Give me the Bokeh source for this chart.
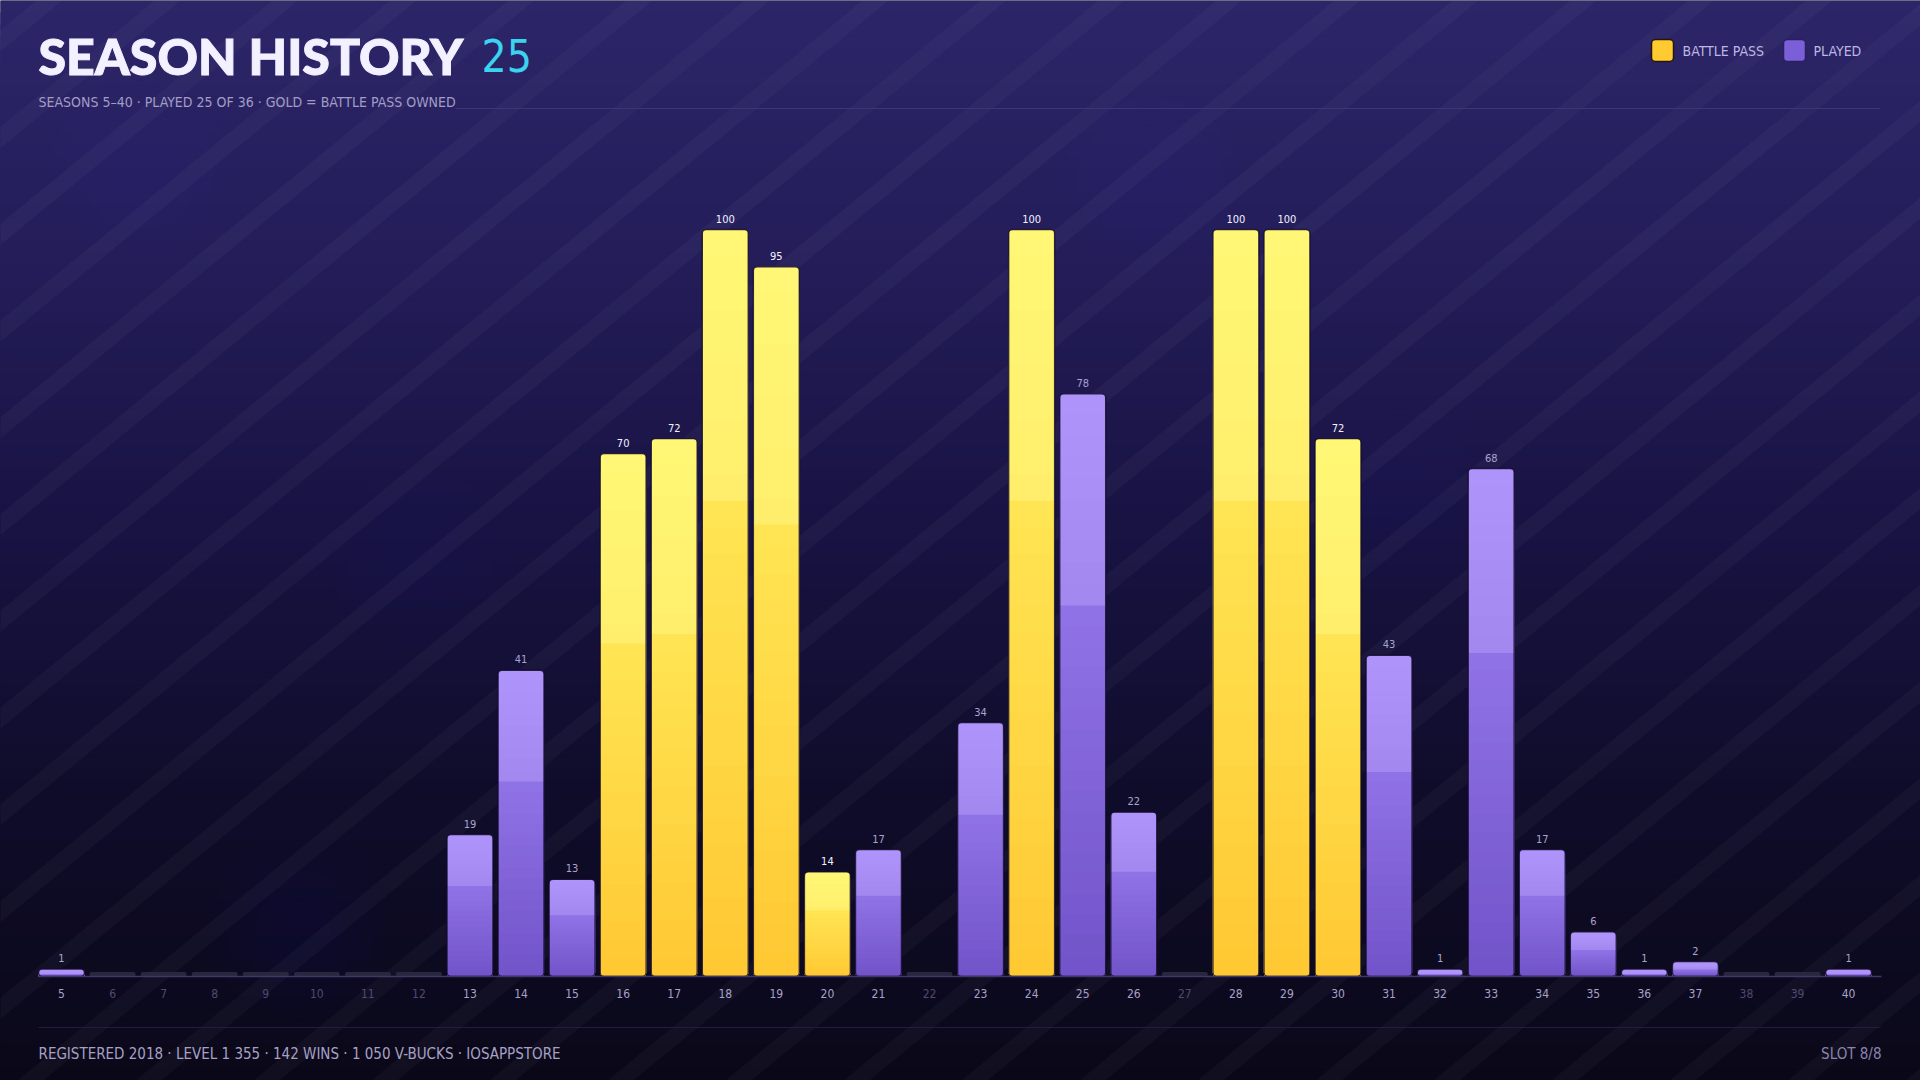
import numpy as np
from bokeh.plotting import figure
from bokeh.models import Range1d, FixedTicker, Label, LinearAxis, ColumnDataSource
from bokeh.core.properties import value
from bokeh.embed import file_html
from bokeh.resources import INLINE

# ---------------- data ----------------
seasons = list(range(5, 41))
levels = [1, 0, 0, 0, 0, 0, 0, 0, 19, 41, 13, 70, 72, 100, 95, 14, 17, 0, 34, 100,
          78, 22, 0, 100, 100, 72, 43, 1, 68, 17, 6, 1, 2, 0, 0, 1]
battle_pass_seasons = [16, 17, 18, 19, 20, 24, 28, 29, 30]

title_text = "SEASON HISTORY"
title_count = "25"
subtitle_text = "SEASONS 5\u201340  \u00b7  PLAYED 25 OF 36  \u00b7  GOLD = BATTLE PASS OWNED"
legend_labels = ["BATTLE PASS", "PLAYED"]
footer_text = "REGISTERED 2018  \u00b7  LEVEL 1 355  \u00b7  142 WINS  \u00b7  1 050 V-BUCKS  \u00b7  IOSAPPSTORE"
footer_right = "SLOT 8/8"

# ---------------- geometry ----------------
W, H = 1920, 1080
XPX = 51.06            # px per season
YPX = 7.47             # px per level unit
BASE = 976             # baseline pixel row
x_start = 5 - 61 / XPX
x_end = x_start + W / XPX
y_end = BASE / YPX
y_start = -(H - BASE) / YPX


def dx(px):
    return x_start + px / XPX


def dy(py):
    return (BASE - py) / YPX


COND = "DejaVu Sans Condensed, Noto Sans Condensed, Roboto Condensed, Roboto, sans-serif"

p = figure(width=W, height=H, output_backend="svg", toolbar_location=None,
           x_range=Range1d(x_start, x_end), y_range=Range1d(y_start, y_end),
           y_axis_location=None, min_border=0, outline_line_color=None)
p.xgrid.visible = False
p.ygrid.visible = False
p.background_fill_color = "#0c0a1e"
p.border_fill_color = "#0c0a1e"


def hex2rgb(h):
    h = h.lstrip("#")
    return np.array([int(h[i:i + 2], 16) for i in (0, 2, 4)], dtype=float)


def rgb2hex(c):
    c = np.clip(np.round(c), 0, 255).astype(int)
    return "#%02x%02x%02x" % tuple(c)


def interp_stops(stops, t):
    for (t0, c0), (t1, c1) in zip(stops[:-1], stops[1:]):
        if t0 <= t <= t1:
            f = (t - t0) / (t1 - t0) if t1 > t0 else 0
            return rgb2hex(hex2rgb(c0) * (1 - f) + hex2rgb(c1) * f)
    return stops[-1][1]


# ---------------- background gradient (stacked, no seams) ----------------
bg_stops = [(0, "#2c2568"), (250, "#241d5a"), (520, "#181343"), (800, "#0f0c2a"), (1080, "#0a0818")]
nb = 90
edges = np.linspace(0, 1080, nb + 1)
p.quad(left=[dx(-5)] * nb, right=[dx(1925)] * nb,
       top=[dy(e) for e in edges[:-1]], bottom=[dy(1085)] * nb,
       fill_color=[interp_stops(bg_stops, (a + b) / 2) for a, b in zip(edges[:-1], edges[1:])],
       line_color=None)

# soft glows
glow_x = [140, 1150, 1400, 420, 300]
glow_y = [170, 185, 490, 560, 930]
for s in [60, 90, 120, 150, 180]:
    p.scatter(x=[dx(v) for v in glow_x], y=[dy(v) for v in glow_y], size=s,
              fill_color="#4a3f9a", fill_alpha=0.018, line_color=None)

# diagonal stripes
k = 0.82
sx, sy = [], []
for c in np.arange(-200, 1920 + 1080 / k + 200, 118):
    d = 26
    pts = [(c, 0), (c + d, 0), (c + d - 1080 / k, 1080), (c - 1080 / k, 1080)]
    sx.append([dx(a) for a, b in pts])
    sy.append([dy(b) for a, b in pts])
p.patches(xs=sx, ys=sy, fill_color="#ffffff", fill_alpha=0.03, line_color=None)

# ---------------- header / footer lines ----------------
p.segment(x0=[dx(455), dx(38)], x1=[dx(1880), dx(1880)], y0=[dy(108), dy(1027)], y1=[dy(108), dy(1027)],
          line_color=["#3d3578", "#231e40"], line_width=1.2)

# ---------------- bars ----------------
xs = np.array(seasons, dtype=float)
vals = np.array(levels, dtype=float)
is_bp = np.array([s in battle_pass_seasons for s in seasons])
played = vals > 0
BW = 0.9

# unplayed stubs
p.vbar(x=xs[~played], bottom=0, top=0.6, width=BW, fill_color="#29263f", line_color=None, border_radius=2)

gold_low = [(0.0, "#ffc833"), (1.0, "#ffe554")]
gold_up = [(0.0, "#ffee6c"), (1.0, "#fff775")]
purp_low = [(0.0, "#7253c9"), (1.0, "#9073e6")]
purp_up = [(0.0, "#a287ef"), (1.0, "#ae94fa")]

SPLIT = 0.66
for mask, low, up in [(played & is_bp, gold_low, gold_up), (played & ~is_bp, purp_low, purp_up)]:
    bx = xs[mask]
    bv = vals[mask]
    # full bar (rounded) in top colour
    p.vbar(x=bx, bottom=0, top=bv, width=BW, fill_color=up[-1][1], line_color=None, border_radius=4)
    cs = bv - np.maximum(0.035 * bv, 0.6)  # gradient stops below the rounded cap
    n_low, n_up = 18, 9
    fr = list(np.linspace(0, SPLIT, n_low + 1)) + list(np.linspace(SPLIT, 1, n_up + 1))[1:]
    # draw tallest first, each slice from the base -> no seams
    for i in reversed(range(len(fr) - 1)):
        f0, f1 = fr[i], fr[i + 1]
        fm = (f0 + f1) / 2
        if fm < SPLIT:
            col = interp_stops(low, fm / SPLIT)
        else:
            col = interp_stops(up, (fm - SPLIT) / (1 - SPLIT))
        p.vbar(x=bx, bottom=0, top=cs * f1, width=BW, fill_color=col, line_color=None,
               border_radius=(0, 0, 4, 4))
    # outline
    p.vbar(x=bx, bottom=0, top=bv, width=BW, fill_color=None, line_color="#130c2b",
           line_width=1.4, line_alpha=0.85, border_radius=4)

# value labels
lab_src = ColumnDataSource(dict(x=xs[played], y=vals[played],
                                t=[str(int(v)) for v in vals[played]],
                                c=["#f4f1ff" if b else "#aaa3cf" for b in is_bp[played]]))
p.text(x="x", y="y", text="t", source=lab_src, text_color="c", text_font=value(COND),
       text_font_size="11px", text_align="center", text_baseline="bottom", y_offset=-7)

# ---------------- axes ----------------
ax = p.xaxis[0]
ax.fixed_location = 0
ax.bounds = (4.55, 40.64)
ax.ticker = FixedTicker(ticks=[s for s, v in zip(seasons, levels) if v > 0])
ax.axis_line_color = "#3d3866"
ax.axis_line_width = 1.5
ax.major_tick_line_color = None
ax.minor_tick_line_color = None
ax.major_label_standoff = 6
ax.major_label_text_font = COND
ax.major_label_text_font_size = "12px"
ax.major_label_text_color = "#a7a1c9"

ax2 = LinearAxis(fixed_location=0, ticker=FixedTicker(ticks=[s for s, v in zip(seasons, levels) if v == 0]),
                 axis_line_color=None, major_tick_line_color=None, minor_tick_line_color=None,
                 major_label_standoff=6, major_label_text_font=COND, major_label_text_font_size="12px",
                 major_label_text_color="#4f4a72")
p.add_layout(ax2, "below")

# ---------------- texts ----------------
title_kw = dict(text_font="Lato Black", text_font_style="bold", text_font_size="50px",
                text_color="#f3f0ff", text_baseline="alphabetic")
if "text_outline_color" in Label.properties():
    title_kw["text_outline_color"] = "#f3f0ff"
p.add_layout(Label(x=dx(38), y=dy(55), text=title_text, **title_kw))
p.add_layout(Label(x=dx(481), y=dy(55), text=title_count, text_font=COND,
                   text_font_size="44px", text_color="#3ad3f0", text_baseline="alphabetic"))
p.add_layout(Label(x=dx(38), y=dy(101), text=subtitle_text, text_font=COND,
                   text_font_size="14px", text_color="#a29cc6", text_baseline="middle"))

# legend
p.quad(left=[dx(1651), dx(1783)], right=[dx(1673), dx(1805)], top=[dy(39), dy(39)], bottom=[dy(61), dy(61)],
       fill_color=["#ffcb30", "#7b5fd8"], line_color=["#2a140e", "#2a2060"], line_width=1.5, border_radius=4)
p.add_layout(Label(x=dx(1682), y=dy(50), text=legend_labels[0], text_font=COND,
                   text_font_size="14px", text_color="#bdb6e2", text_baseline="middle"))
p.add_layout(Label(x=dx(1813), y=dy(50), text=legend_labels[1], text_font=COND,
                   text_font_size="14px", text_color="#bdb6e2", text_baseline="middle"))

# footer
p.add_layout(Label(x=dx(38), y=dy(1053), text=footer_text, text_font=COND,
                   text_font_size="15px", text_color="#a6a1c6", text_baseline="middle"))
p.add_layout(Label(x=dx(1881), y=dy(1053), text=footer_right, text_font=COND, text_align="right",
                   text_font_size="15px", text_color="#8a84ad", text_baseline="middle"))

open("out.html", "w").write(file_html(p, INLINE))
